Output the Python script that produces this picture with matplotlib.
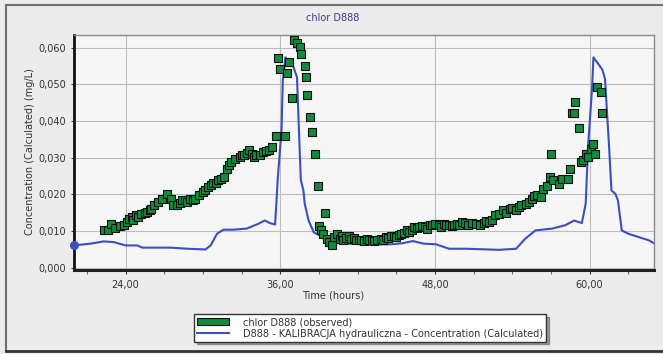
import matplotlib
matplotlib.use("Agg")
import matplotlib.pyplot as plt
from matplotlib.patches import Patch
from matplotlib.lines import Line2D
from matplotlib.ticker import FuncFormatter, MultipleLocator

# ---------------- data ----------------
obs_hours = [22.3, 22.6, 22.9, 23.2, 23.6, 23.9, 24.1, 24.3, 24.5, 24.6, 24.8, 25.0,
             25.2, 25.5, 25.7, 25.9, 26.0, 26.2, 26.5, 26.8, 27.2, 27.5, 27.7, 28.0,
             28.2, 28.4, 28.6, 28.8, 29.0, 29.2, 29.4, 29.7, 30.0, 30.2, 30.4, 30.6,
             30.8, 31.0, 31.2, 31.4, 31.6, 31.9, 32.0, 32.2, 32.5, 32.9, 33.0, 33.2,
             33.4, 33.6, 33.8, 34.0, 34.1, 34.4, 34.7, 34.9, 35.1, 35.4, 35.7, 35.8,
             36.0, 36.4, 36.5, 36.7, 36.9, 37.1, 37.3, 37.5, 37.6, 37.9, 38.0, 38.1,
             38.3, 38.5, 38.7, 38.9, 39.0, 39.2, 39.3, 39.5, 39.6, 39.8, 40.0, 40.2,
             40.4, 40.6, 40.8, 40.9, 41.1, 41.3, 41.5, 41.7, 41.9, 42.1, 42.3, 42.5,
             42.7, 42.9, 43.1, 43.3, 43.5, 43.8, 44.0, 44.2, 44.4, 44.6, 44.8, 45.0,
             45.2, 45.4, 45.6, 45.8, 46.0, 46.2, 46.4, 46.6, 46.8, 47.0, 47.2, 47.4,
             47.6, 47.8, 48.0, 48.3, 48.5, 48.7, 48.9, 49.1, 49.3, 49.5, 49.7, 49.9,
             50.1, 50.3, 50.6, 50.9, 51.2, 51.5, 51.8, 52.0, 52.2, 52.4, 52.7, 53.0,
             53.3, 53.5, 53.8, 54.0, 54.3, 54.5, 54.7, 55.1, 55.3, 55.5, 55.7, 55.9,
             56.2, 56.4, 56.7, 56.9, 57.0, 57.2, 57.6, 57.9, 58.3, 58.5, 58.6, 58.8,
             58.9, 59.2, 59.3, 59.5, 59.7, 59.9, 60.1, 60.3, 60.4, 60.6, 60.9, 61.0]
obs_conc = [0.0102, 0.0102, 0.0120, 0.0109, 0.0113, 0.0116, 0.0125, 0.0134, 0.0138, 0.0130,
            0.0143, 0.0138, 0.0148, 0.0149, 0.0152, 0.0157, 0.0160, 0.0170, 0.0179, 0.0189,
            0.0200, 0.0189, 0.0170, 0.0170, 0.0178, 0.0184, 0.0184, 0.0180, 0.0189, 0.0185,
            0.0189, 0.0198, 0.0207, 0.0212, 0.0220, 0.0225, 0.0230, 0.0232, 0.0239, 0.0243,
            0.0248, 0.0270, 0.0280, 0.0289, 0.0298, 0.0302, 0.0307, 0.0307, 0.0313, 0.0320,
            0.0311, 0.0302, 0.0307, 0.0307, 0.0316, 0.0318, 0.0320, 0.0330, 0.0359, 0.0571,
            0.0541, 0.0359, 0.0532, 0.0560, 0.0462, 0.0621, 0.0612, 0.0601, 0.0582, 0.0550,
            0.0521, 0.0471, 0.0410, 0.0371, 0.0310, 0.0222, 0.0113, 0.0102, 0.0091, 0.0150,
            0.0079, 0.0070, 0.0061, 0.0084, 0.0093, 0.0079, 0.0088, 0.0075, 0.0080, 0.0088,
            0.0079, 0.0082, 0.0075, 0.0077, 0.0075, 0.0072, 0.0079, 0.0077, 0.0075, 0.0072,
            0.0075, 0.0079, 0.0077, 0.0084, 0.0082, 0.0088, 0.0088, 0.0084, 0.0090, 0.0093,
            0.0095, 0.0102, 0.0097, 0.0104, 0.0111, 0.0108, 0.0111, 0.0113, 0.0111, 0.0107,
            0.0116, 0.0118, 0.0120, 0.0116, 0.0112, 0.0120, 0.0118, 0.0116, 0.0113, 0.0116,
            0.0120, 0.0116, 0.0125, 0.0122, 0.0118, 0.0122, 0.0120, 0.0118, 0.0122, 0.0128,
            0.0125, 0.0130, 0.0143, 0.0148, 0.0157, 0.0150, 0.0161, 0.0162, 0.0157, 0.0165,
            0.0170, 0.0175, 0.0180, 0.0189, 0.0195, 0.0198, 0.0193, 0.0216, 0.0222, 0.0248,
            0.0311, 0.0239, 0.0228, 0.0243, 0.0243, 0.0270, 0.0421, 0.0421, 0.0452, 0.0380,
            0.0289, 0.0293, 0.0311, 0.0302, 0.0325, 0.0339, 0.0311, 0.0493, 0.0480, 0.0421]

calc_hours = [20.0, 21.3, 22.3, 23.1, 24.0, 24.9, 25.3, 26.2, 27.5, 28.8, 30.2, 30.6,
              31.1, 31.6, 32.4, 33.4, 34.3, 34.8, 35.2, 35.6, 35.7, 35.8, 36.1, 36.2,
              36.4, 36.8, 37.0, 37.3, 37.5, 37.6, 37.8, 37.9, 38.2, 38.6, 39.3, 40.1,
              41.1, 43.2, 44.5, 45.5, 46.3, 47.1, 48.1, 49.1, 50.4, 53.0, 54.3, 55.0,
              55.8, 57.1, 58.1, 58.8, 59.4, 59.7, 59.9, 60.2, 60.3, 60.7, 61.0, 61.2,
              61.5, 61.7, 62.0, 62.2, 62.5, 63.0, 63.8, 64.6, 65.0]
calc_conc = [0.0061, 0.0066, 0.0072, 0.0070, 0.0061, 0.0061, 0.0055, 0.0055, 0.0055, 0.0052,
             0.0050, 0.0061, 0.0093, 0.0104, 0.0104, 0.0107, 0.0120, 0.0129, 0.0122, 0.0118,
             0.0175, 0.0239, 0.0375, 0.0512, 0.0574, 0.0560, 0.0550, 0.0520, 0.0330, 0.0239,
             0.0211, 0.0175, 0.0129, 0.0097, 0.0084, 0.0070, 0.0066, 0.0064, 0.0064, 0.0067,
             0.0073, 0.0066, 0.0064, 0.0052, 0.0052, 0.0049, 0.0052, 0.0079, 0.0102, 0.0107,
             0.0116, 0.0129, 0.0122, 0.0175, 0.0339, 0.0493, 0.0574, 0.0555, 0.0540, 0.0515,
             0.0339, 0.0211, 0.0202, 0.0184, 0.0102, 0.0093, 0.0084, 0.0075, 0.0067]

x_ticks = [24, 36, 48, 60]
title = "chlor D888"
xlabel = "Time (hours)"
ylabel = "Concentration (Calculated) (mg/L)"
legend_labels = ["chlor D888 (observed)",
                 "D888 - KALIBRACJA hydrauliczna - Concentration (Calculated)"]

# ---------------- figure ----------------
W, H = 663, 354
fig = plt.figure(figsize=(W / 100, H / 100), dpi=100, facecolor="#ececec")
plt.rcParams["font.family"] = ["DejaVu Sans"]

def fx(px):
    return px / W

def fy(py):
    return 1 - py / H

ax = fig.add_axes([fx(74), fy(270), fx(654) - fx(74), fy(35) - fy(270)])
ax.set_facecolor("#f6f6f6")

blue = "#3b4fbf"
green = "#138a3c"

ax.plot(calc_hours, calc_conc, color=blue, lw=1.5, zorder=3, solid_joinstyle="round")
ax.plot(calc_hours[:1], calc_conc[:1], "o", color=blue, ms=5.5, zorder=4, clip_on=False)
ax.scatter(obs_hours, obs_conc, marker="s", s=34, facecolor=green, edgecolor="#111111",
           linewidths=0.8, zorder=5)

ax.set_xlim(20, 65)
ax.set_ylim(-0.0006, 0.0635)

ax.set_xticks(x_ticks)
ax.set_xticklabels([f"{t:.2f}".replace(".", ",") for t in x_ticks])
ax.xaxis.set_minor_locator(MultipleLocator(3))
ax.yaxis.set_major_locator(MultipleLocator(0.01))
ax.yaxis.set_major_formatter(FuncFormatter(lambda v, p: f"{v:.3f}".replace(".", ",")))

ax.tick_params(axis="both", labelsize=7, colors="#333333", length=3, width=0.8)
ax.tick_params(axis="x", which="minor", length=3, width=0.8, color="#666666")
ax.tick_params(axis="x", which="major", length=3, pad=4)
ax.tick_params(axis="y", which="major", length=2, pad=4)

ax.grid(True, which="major", color="#bdbdbd", lw=0.8)
ax.set_axisbelow(True)

for s in ["top", "right"]:
    ax.spines[s].set_color("#8a8a8a")
    ax.spines[s].set_linewidth(1.0)
ax.spines["left"].set_color("#111111")
ax.spines["left"].set_linewidth(2.0)
ax.spines["bottom"].set_color("#222222")
ax.spines["bottom"].set_linewidth(2.2)

fig.text(fx(333), fy(18), title, color="#3d3a8c", fontsize=7, ha="center", va="center")
fig.text(fx(333), fy(296), xlabel, color="#333333", fontsize=7, ha="center", va="center")
fig.text(fx(30), fy(152), ylabel, color="#333333", fontsize=7, ha="center", va="center",
         rotation=90)

handles = [Patch(facecolor=green, edgecolor="#111111", linewidth=0.8),
           Line2D([], [], color=blue, lw=1.5)]
leg = fig.legend(handles, legend_labels, loc="center", bbox_to_anchor=(fx(370), fy(328)),
                 fontsize=7, frameon=True, fancybox=False, shadow=True,
                 handlelength=3.3, handleheight=0.75, handletextpad=1.4,
                 labelspacing=0.15, borderpad=0.3, borderaxespad=0)
leg.get_frame().set_edgecolor("#333333")
leg.get_frame().set_facecolor("white")
leg.get_frame().set_linewidth(1.0)
for t in leg.get_texts():
    t.set_color("#333333")

# outer frame
fig.add_artist(Line2D([fx(6), fx(663)], [fy(5), fy(5)], color="#707070", lw=1.5,
                      transform=fig.transFigure))
fig.add_artist(Line2D([fx(6), fx(6)], [fy(5), fy(351)], color="#707070", lw=1.5,
                      transform=fig.transFigure))
fig.add_artist(Line2D([fx(6), fx(663)], [fy(351), fy(351)], color="#333333", lw=2,
                      transform=fig.transFigure))

fig.savefig("out.png", dpi=100, facecolor=fig.get_facecolor())
